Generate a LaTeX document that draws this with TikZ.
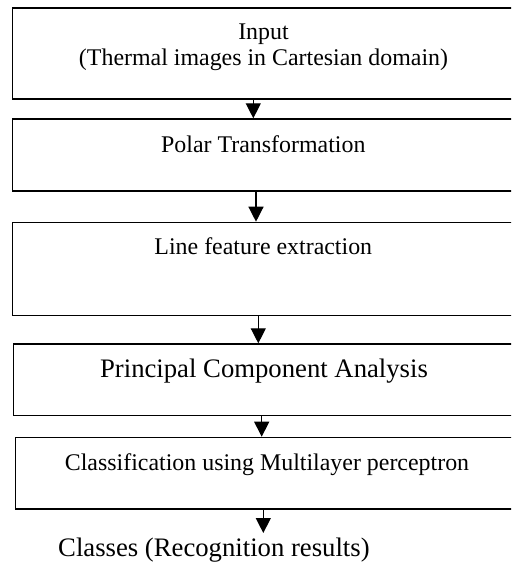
\documentclass[tikz,border=0pt]{standalone}
\usepackage{fontspec}
\setmainfont{Liberation Serif}
\usetikzlibrary{arrows.meta}
\begin{document}
\begin{tikzpicture}[x=1pt,y=-1pt,
  box/.style={draw=black, line width=1.3pt, rectangle, inner sep=0pt, anchor=north west, minimum width=505pt},
  txt/.style={inner sep=0pt, anchor=base, font=\fontsize{23.9}{26.7}\selectfont, align=center},
  bigtxt/.style={inner sep=0pt, anchor=base, font=\fontsize{26.7}{30}\selectfont},
  arr/.style={line width=1.3pt, -{Triangle[width=15pt,length=15pt]}}]
\useasboundingbox (0,0) rectangle (511,569);
\clip (0,0) rectangle (511,569);
\node[box, minimum height=91pt]   (b1) at (11.7,7.3) {};
\node[box, minimum height=72.2pt] (b2) at (11.7,118.3) {};
\node[box, minimum height=93pt]   (b3) at (11.7,221.7) {};
\node[box, minimum height=71.7pt] (b4) at (12.7,343.3) {};
\node[box, minimum height=71.6pt] (b5) at (14.7,436.7) {};
\node[txt] (t1) at (263.5,66) {Input\\(Thermal images in Cartesian domain)};
\node[txt] (t2) at (263.3,152.7) {Polar Transformation};
\node[txt] (t3) at (263.3,254) {Line feature extraction};
\node[bigtxt] (t4) at (264,377.3) {Principal Component Analysis};
\node[txt] (t5) at (267,470) {Classification using Multilayer perceptron};
\node[bigtxt, anchor=base west] (t6) at (58,556) {Classes (Recognition results)};
\coordinate (end) at (263.3,533);
\draw[arr] (253.3,0 |- b1.south) -- (253.3,0 |- b2.north);
\draw[arr] (256,0 |- b2.south) -- (256,0 |- b3.north);
\draw[arr] (258.3,0 |- b3.south) -- (258.3,0 |- b4.north);
\draw[arr] (261.7,0 |- b4.south) -- (261.7,0 |- b5.north);
\draw[arr] (263.3,0 |- b5.south) -- (end);
\end{tikzpicture}
\end{document}
